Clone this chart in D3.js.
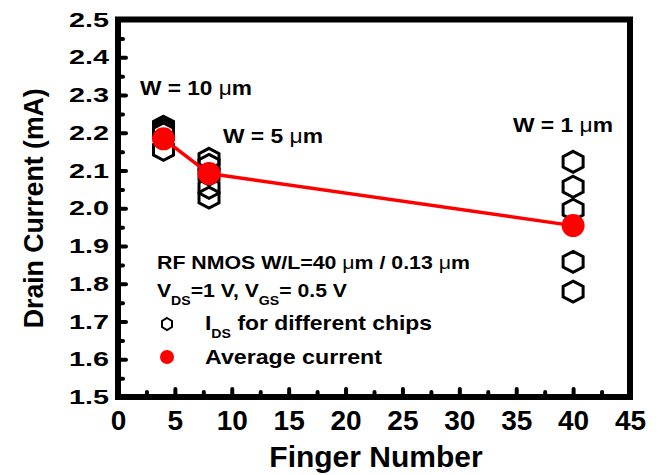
<!DOCTYPE html>
<html>
<head>
<meta charset="utf-8">
<script src="https://cdn.jsdelivr.net/npm/d3@7"></script>
<style>
  body { margin: 0; background: #fff; }
  svg { font-family: "Liberation Sans", Arial, sans-serif; font-weight: bold; }
</style>
</head>
<body>
<div class="contenedor_grafico"></div>
<script>
// finger numbers and measured drain currents (mA)
const fingers = [4, 8, 40];
const chipCurrents = [
  [2.216, 2.211, 2.206, 2.198, 2.155],
  [2.131, 2.115, 2.089, 2.054, 2.028],
  [2.123, 2.057, 1.996, 1.858, 1.779]
];
const avgCurrent = [2.184, 2.092, 1.954];
const widthLabels = ["10", "5", "1"];
const xTicks = [0, 5, 10, 15, 20, 25, 30, 35, 40, 45];
const yTicks = [1.5, 1.6, 1.7, 1.8, 1.9, 2.0, 2.1, 2.2, 2.3, 2.4, 2.5];

const width = 666;
const height = 475;
const plotLeft = 118, plotRight = 630, plotTop = 19.5, plotBottom = 397;

const svg = d3.select(".contenedor_grafico")
  .append("svg")
  .attr("width", width)
  .attr("height", height);

const xScale = d3.scaleLinear().domain([0, 45]).range([plotLeft, plotRight]);
const yScale = d3.scaleLinear().domain([1.5, 2.5]).range([plotBottom, plotTop]);

// hexagon with pointy top, a bit wider than tall
function hexPath(w, h) {
  return `M0,${-h}L${w},${-h / 2}L${w},${h / 2}L0,${h}L${-w},${h / 2}L${-w},${-h / 2}Z`;
}

function styleTicks(g) {
  g.select(".domain").remove();
  g.selectAll("line").attr("stroke-width", 4).attr("stroke-linecap", "round");
}

// minor ticks
const xMinor = d3.range(2.5, 45, 5);
const yMinor = d3.range(1.55, 2.5, 0.1);

svg.append("g")
  .attr("transform", `translate(0,${plotBottom})`)
  .call(d3.axisBottom(xScale).tickValues(xMinor).tickSize(-5).tickFormat(""))
  .call(styleTicks);

svg.append("g")
  .attr("transform", `translate(${plotLeft},0)`)
  .call(d3.axisLeft(yScale).tickValues(yMinor).tickSize(-5).tickFormat(""))
  .call(styleTicks);

// major axes
svg.append("g")
  .attr("transform", `translate(0,${plotBottom})`)
  .call(d3.axisBottom(xScale).tickValues(xTicks).tickSize(-8).tickPadding(13).tickFormat(d3.format("d")))
  .call(styleTicks)
  .call(g => g.selectAll("text").attr("font-size", 28).attr("font-weight", "bold")
    .attr("font-family", "Liberation Sans, Arial, sans-serif").attr("fill", "#000"));

svg.append("g")
  .attr("transform", `translate(${plotLeft},0)`)
  .call(d3.axisLeft(yScale).tickValues(yTicks).tickSize(-8).tickPadding(9).tickFormat(d3.format(".1f")))
  .call(styleTicks)
  .call(g => g.selectAll("text").attr("font-size", 21).attr("font-weight", "bold")
    .attr("font-family", "Liberation Sans, Arial, sans-serif").attr("fill", "#000")
    .attr("textLength", 40).attr("lengthAdjust", "spacingAndGlyphs"));

// frame
svg.append("rect")
  .attr("x", plotLeft).attr("y", plotTop)
  .attr("width", plotRight - plotLeft).attr("height", plotBottom - plotTop)
  .attr("fill", "none").attr("stroke", "#000").attr("stroke-width", 6);

// axis titles
svg.append("text")
  .attr("transform", `translate(43,${(plotTop + plotBottom) / 2}) rotate(-90)`)
  .attr("text-anchor", "middle")
  .attr("font-size", 28)
  .attr("textLength", 240).attr("lengthAdjust", "spacingAndGlyphs")
  .text("Drain Current (mA)");

svg.append("text")
  .attr("x", 376).attr("y", 467)
  .attr("text-anchor", "middle")
  .attr("font-size", 30)
  .text("Finger Number");

// individual chips
const points = fingers.flatMap((f, i) => chipCurrents[i].map(v => [f, v]));
svg.append("g")
  .selectAll("path")
  .data(points)
  .enter()
  .append("path")
  .attr("d", hexPath(10, 10.5))
  .attr("transform", d => `translate(${xScale(d[0])},${yScale(d[1])})`)
  .attr("fill", "none")
  .attr("stroke", "#000")
  .attr("stroke-width", 3);

// average current
const avgData = fingers.map((f, i) => [f, avgCurrent[i]]);
svg.append("path")
  .datum(avgData)
  .attr("fill", "none")
  .attr("stroke", "#ff0000")
  .attr("stroke-width", 3.5)
  .attr("d", d3.line().x(d => xScale(d[0])).y(d => yScale(d[1])));

svg.append("g")
  .selectAll("circle")
  .data(avgData)
  .enter()
  .append("circle")
  .attr("cx", d => xScale(d[0]))
  .attr("cy", d => yScale(d[1]))
  .attr("r", 11.5)
  .attr("fill", "#ff0000");

// width annotations
const wPos = [[140, 95, 112], [223, 143, 100], [513, 132, 100]];
widthLabels.forEach((w, i) => {
  const t = svg.append("text")
    .attr("x", wPos[i][0]).attr("y", wPos[i][1])
    .attr("font-size", 20)
    .attr("textLength", wPos[i][2]).attr("lengthAdjust", "spacingAndGlyphs");
  t.append("tspan").text(`W = ${w} `);
  t.append("tspan").attr("font-weight", "normal").text("\u03bc");
  t.append("tspan").text("m");
});

// legend / conditions
const l1 = svg.append("text").attr("x", 157).attr("y", 269).attr("font-size", 18)
  .attr("textLength", 313).attr("lengthAdjust", "spacingAndGlyphs");
l1.append("tspan").text("RF NMOS W/L=40 ");
l1.append("tspan").attr("font-weight", "normal").text("\u03bc");
l1.append("tspan").text("m / 0.13 ");
l1.append("tspan").attr("font-weight", "normal").text("\u03bc");
l1.append("tspan").text("m");

const l2 = svg.append("text").attr("x", 157).attr("y", 297).attr("font-size", 18)
  .attr("textLength", 190).attr("lengthAdjust", "spacingAndGlyphs");
l2.append("tspan").text("V");
l2.append("tspan").attr("font-size", 12).attr("dy", 8).text("DS");
l2.append("tspan").attr("dy", -8).text("=1 V, V");
l2.append("tspan").attr("font-size", 12).attr("dy", 8).text("GS");
l2.append("tspan").attr("dy", -8).text("= 0.5 V");

svg.append("path")
  .attr("d", hexPath(5, 6))
  .attr("transform", "translate(167,324)")
  .attr("fill", "none").attr("stroke", "#000").attr("stroke-width", 2);

const l3 = svg.append("text").attr("x", 205).attr("y", 330).attr("font-size", 21)
  .attr("textLength", 227).attr("lengthAdjust", "spacingAndGlyphs");
l3.append("tspan").text("I");
l3.append("tspan").attr("font-size", 13).attr("dy", 8).text("DS");
l3.append("tspan").attr("dy", -8).text(" for different chips");

svg.append("circle").attr("cx", 167).attr("cy", 357).attr("r", 7).attr("fill", "#ff0000");

svg.append("text").attr("x", 205).attr("y", 364).attr("font-size", 21)
  .attr("textLength", 177).attr("lengthAdjust", "spacingAndGlyphs")
  .text("Average current");
</script>
</body>
</html>
